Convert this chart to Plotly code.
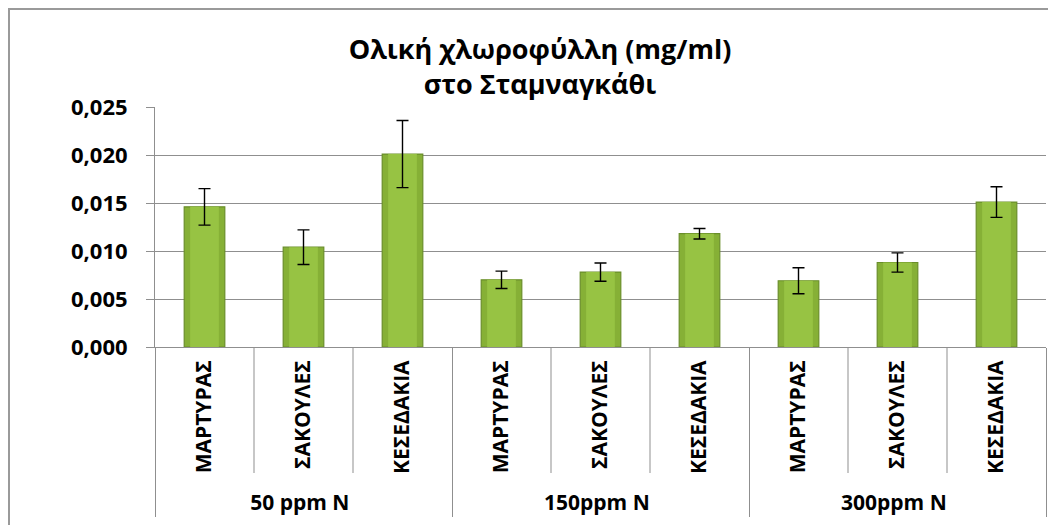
import plotly.graph_objects as go

# ---- data ----
groups = ["50 ppm N", "50 ppm N", "50 ppm N",
          "150ppm N", "150ppm N", "150ppm N",
          "300ppm N", "300ppm N", "300ppm N"]
treatments = ["ΜΑΡΤΥΡΑΣ", "ΣΑΚΟΥΛΕΣ", "ΚΕΣΕΔΑΚΙΑ",
              "ΜΑΡΤΥΡΑΣ", "ΣΑΚΟΥΛΕΣ", "ΚΕΣΕΔΑΚΙΑ",
              "ΜΑΡΤΥΡΑΣ", "ΣΑΚΟΥΛΕΣ", "ΚΕΣΕΔΑΚΙΑ"]
chlorophyll = [0.0146, 0.0104, 0.0201,
               0.0070, 0.0078, 0.0118,
               0.0069, 0.0088, 0.0151]
errors = [0.0019, 0.0018, 0.0035,
          0.0009, 0.00095, 0.00055,
          0.00135, 0.0010, 0.0016]
y_ticks = [0.000, 0.005, 0.010, 0.015, 0.020, 0.025]
y_tick_labels = ["0,000", "0,005", "0,010", "0,015", "0,020", "0,025"]
title_text = "Ολική χλωροφύλλη (mg/ml)<br>στο Σταμναγκάθι"

FONT = "Open Sans"
GRID = "#8f8f8f"
W, H = 1048, 517          # page body has an 8px margin
L, T, R, B = 147, 99, 10, 178
PW, PH = W - L - R, H - T - B

fig = go.Figure()
# main bar body
fig.add_trace(go.Bar(
    x=[groups, treatments], y=chlorophyll, width=0.41,
    marker=dict(color="#86B036", line=dict(color="#6A8E2A", width=1.2)),
    showlegend=False, hoverinfo="skip"))
# lighter central face (bevel look) carrying the error bars
fig.add_trace(go.Bar(
    x=[groups, treatments], y=chlorophyll, width=0.29,
    marker=dict(color="#97C343", line=dict(width=0)),
    error_y=dict(type="data", array=errors, visible=True,
                 color="#000000", thickness=1.4, width=6),
    showlegend=False))

fig.update_layout(
    width=W, height=H,
    barmode="overlay",
    paper_bgcolor="white", plot_bgcolor="white",
    margin=dict(l=L, r=R, t=T, b=B, autoexpand=False),
    title=dict(text=title_text, x=532 / W, xanchor="center",
               y=1 - 51 / H, yanchor="top", yref="container",
               font=dict(family=FONT, size=27, color="#000000", weight="bold")),
    font=dict(family=FONT, color="#000000"),
)

fig.update_yaxes(
    automargin=False,
    range=[0, 0.025], tickvals=y_ticks, ticktext=y_tick_labels,
    showgrid=True, gridcolor=GRID, gridwidth=1,
    showline=True, linecolor=GRID, linewidth=1,
    ticks="outside", ticklen=8, tickcolor=GRID,
    ticklabelstandoff=14,
    tickfont=dict(family=FONT, size=22, color="#000000", weight="bold"),
    zeroline=False,
)
fig.update_xaxes(
    automargin=False,
    type="multicategory",
    showline=True, linecolor=GRID, linewidth=1,
    tickangle=-90,
    ticklabelstandoff=4,
    tickfont=dict(family=FONT, size=21, color="#000000", weight="bold"),
    showdividers=True, dividercolor=GRID, dividerwidth=1,
    ticks="",
)

# sub-category dividers below the axis
for i in range(len(treatments) - 1):
    if groups[i] == groups[i + 1]:
        fig.add_shape(type="line", xref="x", yref="paper",
                      x0=i + 0.5, x1=i + 0.5, y0=0, y1=-126 / PH,
                      line=dict(color=GRID, width=1))

# chart outer border (left and top edges visible)
fig.add_shape(type="rect", xref="paper", yref="paper",
              x0=(1 - L) / PW, x1=1.1, y0=-1.0, y1=1 + (T - 1) / PH,
              line=dict(color="#9a9a9a", width=2), layer="below")

fig.write_html("out.html")
